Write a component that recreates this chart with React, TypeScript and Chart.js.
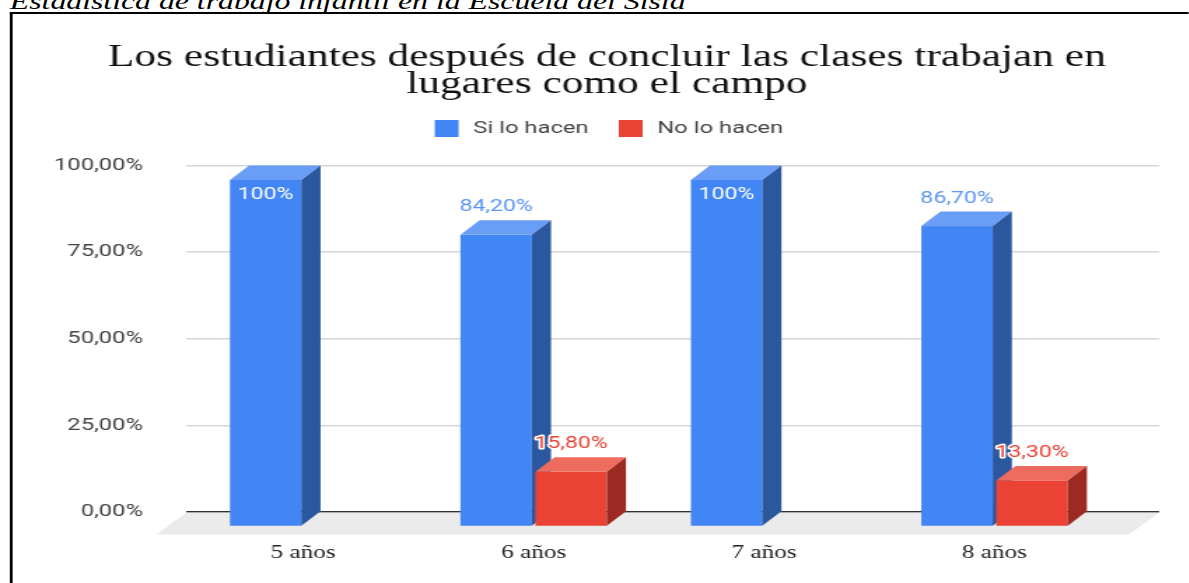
import React, { useEffect, useRef } from "react";
import { Chart, registerables } from "chart.js";

Chart.register(...registerables);

// ---------- data ----------
const caption = "Estadística de trabajo infantil en la Escuela del Sisid";
const titleLines = [
  "Los estudiantes después de concluir las clases trabajan en",
  "lugares como el campo",
];
const categories = ["5 años", "6 años", "7 años", "8 años"];
const seriesNames = ["Si lo hacen", "No lo hacen"];
const siLoHacen: (number | null)[] = [100, 84.2, 100, 86.7];
const noLoHacen: (number | null)[] = [null, 15.8, null, 13.3];
const yTickValues = [0, 25, 50, 75, 100];
const yTickLabels = ["0,00%", "25,00%", "50,00%", "75,00%", "100,00%"];
const dataLabelsSi = ["100%", "84,20%", "100%", "86,70%"];
const dataLabelsNo = ["", "15,80%", "", "13,30%"];

// ---------- styling ----------
const STRETCH = 1.4; // reference picture is stretched horizontally
const PAGE_W = 1189 / STRETCH;
const DX = 13.7;
const DY = 14.5;
const FLOOR_DX = 21.4;
const FLOOR_DY = 22.5;
// chart area top lies above the 100% line (space left under the legend)
const Y_MAX = (100 * (512 - 147)) / (512 - 165.5);

const palettes = [
  { front: "#4285f4", top: "#6a9ef6", side: "#2b579f", label: "#5b95f5" },
  { front: "#ea4335", top: "#ee6b5f", side: "#9c2a22", label: "#ea4335" },
];

function makeLegendImage(color: string): HTMLCanvasElement {
  const c = document.createElement("canvas");
  c.width = 22;
  c.height = 17;
  const g = c.getContext("2d")!;
  g.fillStyle = color;
  g.fillRect(3, 0, 17, 17);
  return c;
}

const bars3d = {
  id: "bars3d",
  beforeDatasetsDraw(chart: any) {
    const { ctx, chartArea: a } = chart;
    const yBase = chart.scales.y.getPixelForValue(0);
    ctx.save();
    ctx.fillStyle = "#ebebeb";
    ctx.beginPath();
    ctx.moveTo(a.left, yBase + 0.75);
    ctx.lineTo(a.right, yBase + 0.75);
    ctx.lineTo(a.right - FLOOR_DX, yBase + FLOOR_DY);
    ctx.lineTo(a.left - FLOOR_DX, yBase + FLOOR_DY);
    ctx.closePath();
    ctx.fill();
    ctx.restore();
  },
  beforeDatasetDraw() {
    return false;
  },
  afterDatasetsDraw(chart: any) {
    const ctx = chart.ctx;
    const datasets = chart.data.datasets;
    const labelTexts = [dataLabelsSi, dataLabelsNo];
    const labels: any[] = [];
    ctx.save();
    for (let i = 0; i < categories.length; i++) {
      for (let d = 0; d < datasets.length; d++) {
        const meta = chart.getDatasetMeta(d);
        const el = meta.data[i];
        const raw = datasets[d].data[i];
        if (!el || raw == null || raw.y == null) continue;
        const { x, y, base, width } = el.getProps(["x", "y", "base", "width"], true);
        const p = palettes[d];
        const l = x - width / 2;
        const r = x + width / 2;
        // front
        ctx.fillStyle = p.front;
        ctx.fillRect(l, y + DY, width, base - y);
        // top
        ctx.fillStyle = p.top;
        ctx.beginPath();
        ctx.moveTo(l, y + DY);
        ctx.lineTo(l + DX, y);
        ctx.lineTo(r + DX, y);
        ctx.lineTo(r, y + DY);
        ctx.closePath();
        ctx.fill();
        // side
        ctx.fillStyle = p.side;
        ctx.beginPath();
        ctx.moveTo(r, y + DY);
        ctx.lineTo(r + DX, y);
        ctx.lineTo(r + DX, base);
        ctx.lineTo(r, base + DY);
        ctx.closePath();
        ctx.fill();
        const inside = raw.y >= 95;
        labels.push({
          text: labelTexts[d][i],
          x,
          y: inside ? y + DY + 14.5 : y - 13,
          inside,
          color: p.label,
        });
      }
    }
    ctx.font = "16.5px Roboto";
    ctx.textAlign = "center";
    ctx.textBaseline = "middle";
    ctx.lineJoin = "round";
    for (const lb of labels) {
      if (!lb.text) continue;
      if (lb.inside) {
        ctx.fillStyle = "#ffffff";
        ctx.fillText(lb.text, lb.x, lb.y);
      } else {
        ctx.strokeStyle = "#ffffff";
        ctx.lineWidth = 3;
        ctx.strokeText(lb.text, lb.x, lb.y);
        ctx.fillStyle = lb.color;
        ctx.fillText(lb.text, lb.x, lb.y);
      }
    }
    ctx.restore();
  },
};

export default function App() {
  const ref = useRef<HTMLCanvasElement | null>(null);

  useEffect(() => {
    if (!ref.current) return;
    const legendImgs = palettes.map((p) => makeLegendImage(p.front));
    const chart = new Chart(ref.current, {
      type: "bar",
      data: {
        datasets: [
          {
            label: seriesNames[0],
            data: siLoHacen.map((v, i) => ({ x: i, y: v })) as any,
            backgroundColor: palettes[0].front,
          },
          {
            label: seriesNames[1],
            data: noLoHacen.map((v, i) => ({ x: i, y: v })) as any,
            backgroundColor: palettes[1].front,
          },
        ],
      },
      options: {
        responsive: false,
        animation: false,
        events: [],
        layout: { padding: { left: 39.1, right: 42.1, top: 0, bottom: 0 } },
        datasets: {
          bar: { categoryPercentage: 0.651, barPercentage: 0.952, grouped: true },
        } as any,
        scales: {
          x: {
            type: "linear",
            offset: false,
            min: -0.508,
            max: 3.714,
            afterBuildTicks: (s: any) => {
              s.ticks = categories.map((_, i) => ({ value: i }));
            },
            afterFit: (s: any) => {
              s.height = 71;
            },
            grid: { display: false, drawTicks: false },
            border: { display: false },
            ticks: {
              autoSkip: false,
              maxRotation: 0,
              padding: 30,
              color: "#222",
              font: { family: "Liberation Serif", size: 18 },
              callback: (_v: any, i: number) => categories[i],
            },
          },
          y: {
            type: "linear",
            min: 0,
            max: Y_MAX,
            afterBuildTicks: (s: any) => {
              s.ticks = yTickValues.map((v) => ({ value: v }));
            },
            afterFit: (s: any) => {
              s.width = 93.8;
            },
            grid: {
              drawTicks: false,
              color: (c: any) => (c.tick && c.tick.value === 0 ? "#333333" : "#d6d6d6"),
              lineWidth: 1.5,
            },
            border: { display: false },
            ticks: {
              padding: 30.8,
              color: "#444",
              font: { family: "Roboto", size: 17 },
              callback: (_v: any, i: number) => yTickLabels[i],
            },
          },
        },
        plugins: {
          tooltip: { enabled: false },
          title: {
            display: true,
            text: titleLines,
            color: "#111",
            font: { family: "Liberation Serif", size: 31, lineHeight: 0.87, weight: "normal" as any },
            padding: { top: 44, bottom: 3.56 },
          },
          legend: {
            position: "top",
            labels: {
              usePointStyle: true,
              pointStyleWidth: 22,
              boxHeight: 17,
              padding: 18.5,
              color: "#444",
              font: { family: "Roboto", size: 17 },
              generateLabels: (c: any) =>
                c.data.datasets.map((ds: any, i: number) => ({
                  text: ds.label,
                  datasetIndex: i,
                  hidden: false,
                  pointStyle: legendImgs[i],
                  fillStyle: palettes[i].front,
                  strokeStyle: palettes[i].front,
                  lineWidth: 0,
                  fontColor: "#444",
                })),
            },
          },
        },
      },
      plugins: [bars3d],
    } as any);
    return () => chart.destroy();
  }, []);

  return (
    <div
      style={{
        position: "fixed",
        left: 0,
        top: 0,
        width: PAGE_W,
        height: 583,
        overflow: "hidden",
        transform: `scaleX(${STRETCH})`,
        transformOrigin: "0 0",
        background: "#fff",
      }}
    >
      <div
        style={{
          position: "absolute",
          left: 7,
          top: -9.5,
          font: "italic 22.7px 'Liberation Serif'",
          lineHeight: 1,
          whiteSpace: "nowrap",
          color: "#000",
        }}
      >
        {caption}
      </div>
      <div
        style={{
          position: "absolute",
          left: 7.3,
          top: 12,
          width: 2000,
          height: 2000,
          borderTop: "2px solid #000",
          borderLeft: "2px solid #000",
        }}
      />
      <canvas
        ref={ref}
        width={870}
        height={583}
        style={{ position: "absolute", left: 0, top: 0 }}
      />
    </div>
  );
}
